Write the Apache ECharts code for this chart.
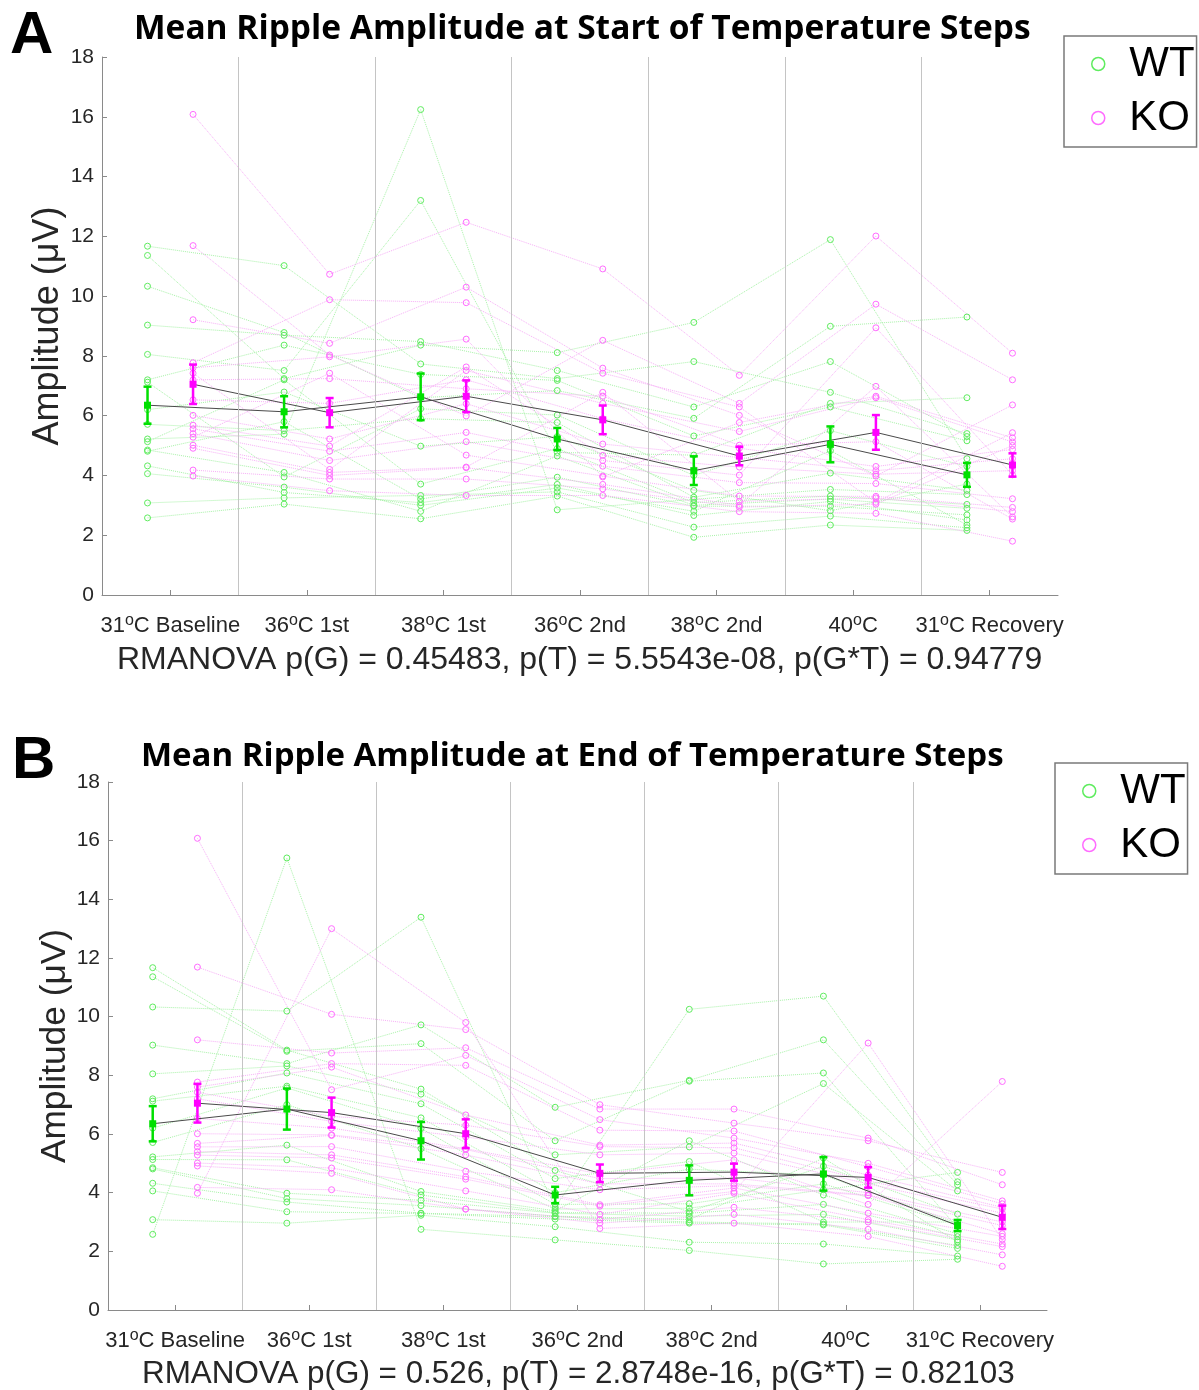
<!DOCTYPE html>
<html>
<head>
<meta charset="utf-8">
<title>Mean Ripple Amplitude</title>
<script src="https://cdn.jsdelivr.net/npm/echarts@6/dist/echarts.min.js"></script>
<style>
  html, body { margin: 0; padding: 0; background: #fff; }
  #container { width: 1199px; height: 1390px; }
</style>
</head>
<body>
<div id="container"></div>
<script>
// temperature steps (superscript o is a rich text token)
const categories = ['31{s|o}C Baseline', '36{s|o}C 1st', '38{s|o}C 1st', '36{s|o}C 2nd', '38{s|o}C 2nd', '40{s|o}C', '31{s|o}C Recovery'];

// one row per animal, one value per temperature step (uV)
const wtStart = [
  [11.67, 11.02, 7.73, 7.24, 7.81, 6.78, 5.40],
  [11.36, 7.24, 8.36, 8.11, 9.12, 11.89, 4.56],
  [10.33, 8.78, 6.60, 6.84, 5.91, 8.99, 9.30],
  [9.03, 8.69, 8.48, 7.51, 6.29, 7.81, 5.30],
  [8.05, 7.51, 13.20, 4.77, 4.68, 6.41, 6.60],
  [7.20, 8.36, 7.38, 7.18, 5.32, 6.29, 5.16],
  [7.12, 3.95, 6.23, 6.02, 4.00, 5.50, 4.30],
  [6.20, 6.79, 4.98, 5.30, 3.50, 2.82, 3.71],
  [5.71, 5.50, 5.90, 5.77, 3.27, 4.08, 3.50],
  [5.22, 5.38, 16.24, 2.85, 3.20, 3.53, 3.36],
  [5.13, 7.20, 3.71, 4.90, 3.09, 3.31, 3.03],
  [4.85, 4.10, 2.80, 4.65, 3.00, 3.21, 2.90],
  [4.81, 5.80, 3.21, 3.94, 2.97, 2.97, 2.68],
  [4.32, 3.43, 3.09, 3.70, 2.66, 3.13, 2.51],
  [4.06, 3.61, 3.00, 3.58, 2.80, 4.83, 2.34],
  [3.08, 3.25, 3.33, 3.45, 2.27, 2.64, 2.25],
  [2.58, 3.04, 2.55, 3.31, 1.93, 2.34, 2.16]
];
const koStart = [
  [16.08, 10.73, 12.47, 10.91, 7.35, 12.01, 8.09],
  [11.69, 8.03, 5.99, 8.52, 6.41, 9.73, 7.20],
  [9.21, 8.42, 10.30, 7.59, 6.01, 3.98, 6.36],
  [7.77, 9.88, 9.78, 7.42, 6.29, 3.10, 5.43],
  [7.60, 7.97, 8.56, 3.95, 5.77, 6.65, 5.26],
  [7.42, 4.20, 7.51, 6.41, 5.47, 6.60, 5.12],
  [7.20, 7.24, 6.90, 6.65, 5.01, 5.13, 2.54],
  [6.53, 6.41, 7.20, 5.90, 4.91, 4.30, 4.87],
  [6.01, 5.22, 6.40, 5.05, 4.60, 4.16, 4.56],
  [5.68, 4.98, 7.63, 4.67, 4.28, 4.04, 4.16],
  [5.56, 4.81, 5.44, 4.50, 4.01, 8.94, 4.02],
  [5.40, 4.50, 5.13, 4.31, 3.76, 3.73, 3.22],
  [5.28, 7.42, 4.68, 3.98, 3.31, 3.30, 2.93],
  [5.01, 4.10, 4.28, 6.78, 3.13, 3.25, 2.79],
  [4.91, 4.00, 4.26, 3.70, 3.00, 6.98, 2.61],
  [4.18, 3.88, 3.88, 3.55, 2.94, 3.04, 5.00],
  [3.98, 3.49, 3.33, 3.33, 2.79, 2.73, 1.80]
];
const wtEnd = [
  [11.67, 8.86, 7.53, 4.76, 3.35, 4.90, 3.27],
  [11.36, 8.82, 9.08, 5.77, 7.80, 8.08, 2.80],
  [10.33, 10.19, 13.39, 3.50, 10.25, 10.70, 4.37],
  [9.03, 8.40, 9.72, 6.91, 7.83, 9.21, 4.27],
  [8.05, 8.32, 7.36, 5.29, 5.56, 7.72, 4.06],
  [7.20, 8.08, 7.03, 4.48, 5.06, 3.00, 3.00],
  [7.12, 7.63, 6.55, 4.00, 4.80, 4.60, 2.95],
  [6.20, 7.57, 6.19, 3.60, 3.62, 4.30, 2.90],
  [5.71, 7.00, 5.50, 3.44, 3.47, 4.10, 4.69],
  [5.22, 5.62, 4.04, 3.38, 5.77, 3.92, 2.60],
  [5.13, 5.12, 3.92, 3.32, 3.30, 3.60, 2.50],
  [4.85, 3.98, 3.74, 3.30, 3.20, 3.26, 2.39],
  [4.81, 3.80, 3.56, 3.20, 3.08, 5.18, 2.32],
  [4.32, 3.68, 3.30, 3.18, 3.00, 2.93, 2.20],
  [4.06, 3.35, 3.29, 3.10, 2.96, 2.90, 2.10],
  [3.08, 2.96, 3.23, 2.84, 2.31, 2.25, 1.84],
  [2.58, 15.41, 2.75, 2.39, 2.03, 1.57, 1.73]
];
const koEnd = [
  [16.08, 7.51, 8.68, 6.49, 5.86, 5.00, 3.72],
  [11.69, 10.08, 9.56, 7.00, 6.37, 5.77, 4.69],
  [9.21, 8.76, 8.94, 6.85, 6.85, 5.86, 4.27],
  [7.77, 8.40, 8.34, 6.13, 6.10, 4.88, 3.62],
  [7.60, 8.28, 6.65, 5.62, 5.69, 4.60, 3.50],
  [7.42, 6.60, 6.30, 5.57, 5.53, 4.40, 3.44],
  [7.20, 6.43, 5.90, 5.29, 5.35, 4.30, 3.30],
  [6.53, 6.20, 5.50, 4.64, 5.12, 3.60, 7.79],
  [6.01, 5.97, 5.47, 4.48, 4.50, 4.00, 3.00],
  [5.68, 5.95, 5.29, 4.30, 4.30, 3.92, 2.88],
  [5.56, 5.57, 4.73, 4.10, 4.24, 3.90, 2.60],
  [5.40, 5.29, 4.54, 3.59, 4.16, 3.30, 2.51],
  [5.28, 5.18, 4.46, 3.54, 4.04, 9.10, 2.40],
  [5.01, 4.84, 4.06, 3.26, 3.98, 3.08, 2.25],
  [4.91, 4.66, 3.44, 3.08, 3.50, 3.00, 2.16],
  [4.18, 4.10, 3.44, 2.96, 3.26, 2.75, 1.88],
  [3.98, 13.00, 9.80, 2.78, 2.96, 2.51, 1.49]
];

// group means and sem, as drawn
const wtStartMean = [6.35, 6.13, 6.63, 5.22, 4.16, 5.04, 4.02];
const wtStartSem  = [0.62, 0.52, 0.78, 0.37, 0.48, 0.60, 0.40];
const koStartMean = [7.05, 6.10, 6.65, 5.86, 4.65, 5.44, 4.35];
const koStartSem  = [0.66, 0.49, 0.53, 0.48, 0.31, 0.58, 0.39];
const wtEndMean = [6.35, 6.85, 5.77, 3.92, 4.42, 4.64, 2.88];
const wtEndSem  = [0.60, 0.70, 0.64, 0.28, 0.51, 0.57, 0.19];
const koEndMean = [7.05, 6.73, 6.01, 4.66, 4.70, 4.52, 3.16];
const koEndSem  = [0.66, 0.51, 0.49, 0.30, 0.29, 0.35, 0.40];

const separators = [1.5, 2.5, 3.5, 4.5, 5.5, 6.5];

const WT_PT = '#5fec5f', WT_LINE = '#a8f3a8', WT_MEAN = '#00e000';
const KO_PT = '#ff6cff', KO_LINE = '#f8b0f8', KO_MEAN = '#ff00ff';
const TXT = '#262626', AXIS = '#8a8a8a';
const SANS = 'Liberation Sans, Arial, sans-serif';

let chart = echarts.init(document.getElementById('container'));

function animalSeries(rows, name, off, pt, ln, p) {
  return rows.map(r => ({
    type: 'line', name: name, xAxisIndex: p * 2 + 1, yAxisIndex: p,
    data: r.map((v, g) => [g + 1 + off, v]),
    symbol: 'circle', symbolSize: 6,
    itemStyle: { color: 'rgba(0,0,0,0)', borderColor: pt, borderWidth: 1 },
    lineStyle: { color: ln, width: 1, type: 'dotted' },
    z: 2, silent: true
  }));
}

function meanLine(mean, off, p) {
  return {
    type: 'line', xAxisIndex: p * 2 + 1, yAxisIndex: p,
    data: mean.map((m, g) => [g + 1 + off, m]),
    symbol: 'none', lineStyle: { color: '#4a4a4a', width: 1 }, z: 4, silent: true
  };
}

function errBars(mean, sem, off, color, p) {
  return {
    type: 'custom', xAxisIndex: p * 2 + 1, yAxisIndex: p, z: 5, silent: true,
    data: mean.map((m, g) => [g + 1 + off, m, sem[g]]),
    renderItem: function (params, api) {
      let x = api.value(0), m = api.value(1), s = api.value(2);
      let top = api.coord([x, m + s]), bot = api.coord([x, m - s]), mid = api.coord([x, m]);
      let st = { stroke: color, lineWidth: 2.5 };
      return {
        type: 'group',
        children: [
          { type: 'line', shape: { x1: top[0], y1: top[1], x2: bot[0], y2: bot[1] }, style: st },
          { type: 'line', shape: { x1: top[0] - 4, y1: top[1], x2: top[0] + 4, y2: top[1] }, style: st },
          { type: 'line', shape: { x1: bot[0] - 4, y1: bot[1], x2: bot[0] + 4, y2: bot[1] }, style: st },
          { type: 'rect', shape: { x: mid[0] - 3.5, y: mid[1] - 3.5, width: 7, height: 7 }, style: { fill: color } }
        ]
      };
    }
  };
}

function sepSeries(p) {
  return {
    type: 'line', xAxisIndex: p * 2 + 1, yAxisIndex: p, data: [], z: 1, silent: true,
    markLine: {
      silent: true, symbol: ['none', 'none'], label: { show: false },
      lineStyle: { color: '#c4c4c4', width: 1, type: 'solid' },
      data: separators.map(s => ({ xAxis: s }))
    }
  };
}

function catAxis(p) {
  return {
    type: 'category', gridIndex: p, position: 'bottom', data: categories,
    axisLine: { show: true, lineStyle: { color: AXIS } },
    axisTick: { show: true, inside: true, alignWithLabel: true, length: 5, lineStyle: { color: AXIS } },
    axisLabel: {
      interval: 0, margin: 18, color: TXT, fontSize: 22, fontFamily: SANS,
      rich: { s: { fontSize: 16, verticalAlign: 'top', fontFamily: SANS, color: TXT, padding: [0, 0, 9, 0] } }
    },
    splitLine: { show: false }
  };
}

function valAxis(p) {
  return {
    type: 'value', gridIndex: p, position: 'bottom', min: 0.5, max: 7.5,
    axisLine: { show: false }, axisTick: { show: false }, axisLabel: { show: false }, splitLine: { show: false }
  };
}

function yAxis(p, gap, size) {
  return {
    type: 'value', gridIndex: p, min: 0, max: 18, interval: 2,
    name: 'Amplitude (μV)', nameLocation: 'middle', nameGap: gap, nameMoveOverlap: false,
    nameTextStyle: { fontSize: size, color: TXT, fontFamily: SANS },
    axisLine: { show: true, lineStyle: { color: AXIS } },
    axisTick: { show: true, inside: true, length: 5, lineStyle: { color: AXIS } },
    axisLabel: { margin: 8, fontSize: 21, color: TXT, fontFamily: SANS },
    splitLine: { show: false }
  };
}

function legendBox(left, top) {
  return {
    left: left, top: top, orient: 'vertical', selectedMode: false,
    itemWidth: 40, itemHeight: 13, itemGap: 12,
    padding: [7, 2, 8, 27],
    borderColor: '#7a7a7a', borderWidth: 1.5, backgroundColor: '#fff',
    textStyle: { fontSize: 42, color: '#000', fontFamily: SANS, padding: [0, 0, 0, 6] },
    data: [
      { name: 'WT', icon: 'circle', itemStyle: { color: '#fff', borderColor: WT_PT, borderWidth: 1.5 } },
      { name: 'KO', icon: 'circle', itemStyle: { color: '#fff', borderColor: KO_PT, borderWidth: 1.5 } }
    ]
  };
}

const off = 1 / 6;

let option = {
  backgroundColor: '#fff',
  animation: false,
  title: [
    { text: 'A', left: 10, top: 6, padding: 0, textStyle: { fontSize: 60, fontWeight: 'bold', color: '#000', fontFamily: SANS } },
    { text: 'Mean Ripple Amplitude at Start of Temperature Steps', left: 134, top: 12, padding: 0,
      textStyle: { fontSize: 33.5, fontWeight: 'bold', color: '#000', fontFamily: 'Open Sans' } },
    { text: 'RMANOVA p(G) = 0.45483, p(T) = 5.5543e-08, p(G*T) = 0.94779', left: 117, top: 644, padding: 0,
      textStyle: { fontSize: 32, fontWeight: 'normal', color: TXT, fontFamily: SANS } },
    { text: 'B', left: 12, top: 731, padding: 0, textStyle: { fontSize: 60, fontWeight: 'bold', color: '#000', fontFamily: SANS } },
    { text: 'Mean Ripple Amplitude at End of Temperature Steps', left: 141, top: 740, padding: 0,
      textStyle: { fontSize: 33, fontWeight: 'bold', color: '#000', fontFamily: 'Open Sans' } },
    { text: 'RMANOVA p(G) = 0.526, p(T) = 2.8748e-16, p(G*T) = 0.82103', left: 142, top: 1359, padding: 0,
      textStyle: { fontSize: 31.4, fontWeight: 'normal', color: TXT, fontFamily: SANS } }
  ],
  legend: [legendBox(1064, 36), legendBox(1055, 763)],
  grid: [
    { left: 102, top: 57, width: 956, height: 538 },
    { left: 108, top: 782, width: 939, height: 528 }
  ],
  xAxis: [catAxis(0), valAxis(0), catAxis(1), valAxis(1)],
  yAxis: [yAxis(0, 36, 36), yAxis(1, 35, 35.3)],
  series: [].concat(
    sepSeries(0),
    animalSeries(wtStart, 'WT', -off, WT_PT, WT_LINE, 0),
    animalSeries(koStart, 'KO', off, KO_PT, KO_LINE, 0),
    meanLine(wtStartMean, -off, 0), meanLine(koStartMean, off, 0),
    errBars(wtStartMean, wtStartSem, -off, WT_MEAN, 0),
    errBars(koStartMean, koStartSem, off, KO_MEAN, 0),
    sepSeries(1),
    animalSeries(wtEnd, 'WT', -off, WT_PT, WT_LINE, 1),
    animalSeries(koEnd, 'KO', off, KO_PT, KO_LINE, 1),
    meanLine(wtEndMean, -off, 1), meanLine(koEndMean, off, 1),
    errBars(wtEndMean, wtEndSem, -off, WT_MEAN, 1),
    errBars(koEndMean, koEndSem, off, KO_MEAN, 1)
  )
};

chart.setOption(option);
</script>
</body>
</html>
